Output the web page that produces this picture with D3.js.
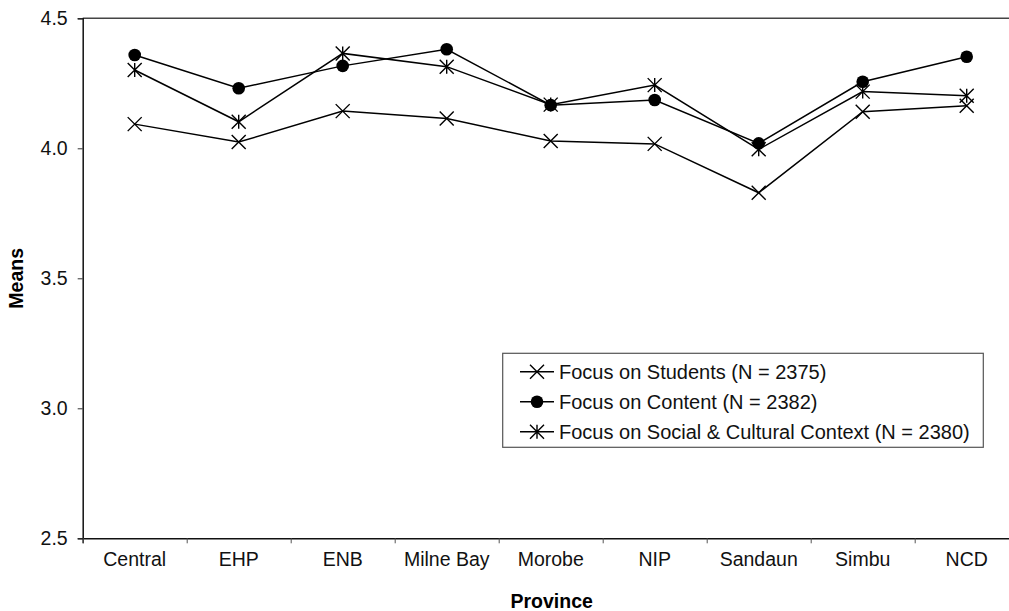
<!DOCTYPE html>
<html>
<head>
<meta charset="utf-8">
<script src="https://cdn.jsdelivr.net/npm/d3@7/dist/d3.min.js"></script>
<style>
  html, body { margin: 0; padding: 0; background: #fff; }
  svg { display: block; font-family: Arial, "Liberation Sans", sans-serif; }
</style>
</head>
<body>
<svg id="chart" width="1009" height="611"></svg>
<script>
// Provinces along the x axis
const provinces = ["Central", "EHP", "ENB", "Milne Bay", "Morobe", "NIP", "Sandaun", "Simbu", "NCD"];

// Mean scores per province for each focus scale
const focusStudents = [4.093, 4.024, 4.143, 4.115, 4.028, 4.017, 3.829, 4.141, 4.164];
const focusContent  = [4.359, 4.231, 4.317, 4.381, 4.166, 4.186, 4.019, 4.256, 4.352];
const focusSocial   = [4.301, 4.102, 4.365, 4.314, 4.168, 4.243, 3.996, 4.218, 4.202];

const seriesNames = [
  "Focus on Students (N = 2375)",
  "Focus on Content (N = 2382)",
  "Focus on Social & Cultural Context (N = 2380)"
];

const yTicks = [2.5, 3.0, 3.5, 4.0, 4.5];

const svg = d3.select("#chart");
const plotLeft = 82.7, plotTop = 18.3, plotBottom = 538.3, band = 104;
const plotRight = plotLeft + band * provinces.length;
const fontSize = 19.5;
const fontFamily = "Arial, 'Liberation Sans', sans-serif";

const x = d3.scaleBand().domain(provinces).range([plotLeft, plotRight]).paddingInner(0).paddingOuter(0);
const xEdge = d3.scaleLinear().domain([0, provinces.length]).range([plotLeft, plotRight]);
const y = d3.scaleLinear().domain([2.5, 4.5]).range([plotBottom, plotTop]);

// Top frame line
svg.append("line")
  .attr("x1", plotLeft).attr("x2", plotRight)
  .attr("y1", y(4.5)).attr("y2", y(4.5))
  .attr("stroke", "#444").attr("stroke-width", 1.5);

// Y axis
const yAxis = svg.append("g")
  .attr("transform", `translate(${plotLeft},0)`)
  .call(d3.axisLeft(y).tickValues(yTicks).tickFormat(d3.format(".1f")).tickSize(5).tickPadding(10));
yAxis.select(".domain").attr("stroke", "#111").attr("stroke-width", 1.5);
yAxis.selectAll(".tick line").attr("stroke", "#333").attr("stroke-width", 1);
yAxis.selectAll(".tick text")
  .attr("font-size", fontSize).attr("font-family", fontFamily)
  .attr("fill", "#111");

// X axis: ticks on category boundaries, labels at category centers
const xAxis = svg.append("g")
  .attr("transform", `translate(0,${plotBottom})`)
  .call(d3.axisBottom(xEdge).tickValues(d3.range(0, provinces.length + 1)).tickFormat("").tickSize(5));
xAxis.select(".domain").attr("stroke", "#111").attr("stroke-width", 1.5);
xAxis.selectAll(".tick line").attr("stroke", "#555").attr("stroke-width", 1);

const xLabels = svg.append("g")
  .attr("transform", `translate(0,${plotBottom})`)
  .call(d3.axisBottom(x).tickSize(0).tickPadding(14));
xLabels.select(".domain").remove();
xLabels.selectAll(".tick text")
  .attr("font-size", fontSize).attr("font-family", fontFamily)
  .attr("fill", "#111");

// Axis titles
svg.append("text")
  .attr("x", 551.7).attr("y", 608)
  .attr("text-anchor", "middle")
  .attr("font-size", fontSize).attr("font-weight", "bold")
  .text("Province");

svg.append("text")
  .attr("transform", `translate(23,${(plotTop + plotBottom) / 2}) rotate(-90)`)
  .attr("text-anchor", "middle")
  .attr("font-size", fontSize).attr("font-weight", "bold")
  .text("Means");

// Marker shapes
const S = 7;
function drawMarker(g, kind, cx, cy) {
  if (kind === "circle") {
    g.append("circle").attr("cx", cx).attr("cy", cy).attr("r", 6.3).attr("fill", "#000");
  } else {
    const p = d3.path();
    p.moveTo(cx - S, cy - S); p.lineTo(cx + S, cy + S);
    p.moveTo(cx - S, cy + S); p.lineTo(cx + S, cy - S);
    if (kind === "star") { p.moveTo(cx, cy - S); p.lineTo(cx, cy + S); }
    g.append("path").attr("d", p.toString()).attr("stroke", "#000").attr("stroke-width", 1.4).attr("fill", "none");
  }
}

const series = [
  { name: seriesNames[0], values: focusStudents, kind: "cross" },
  { name: seriesNames[1], values: focusContent, kind: "circle" },
  { name: seriesNames[2], values: focusSocial, kind: "star" }
];

const line = d3.line()
  .x((d, i) => x(provinces[i]) + x.bandwidth() / 2)
  .y(d => y(d));

series.forEach(s => {
  const g = svg.append("g");
  g.append("path")
    .attr("d", line(s.values))
    .attr("fill", "none").attr("stroke", "#000").attr("stroke-width", 1.5);
  s.values.forEach((v, i) => drawMarker(g, s.kind, x(provinces[i]) + x.bandwidth() / 2, y(v)));
});

// Legend
const legend = svg.append("g");
legend.append("rect")
  .attr("x", 502.7).attr("y", 353.3).attr("width", 480.6).attr("height", 94)
  .attr("fill", "#fff").attr("stroke", "#555").attr("stroke-width", 1.2);
series.forEach((s, i) => {
  const cy = 371.7 + i * 30;
  legend.append("line").attr("x1", 520).attr("x2", 554).attr("y1", cy).attr("y2", cy)
    .attr("stroke", "#000").attr("stroke-width", 1.5);
  drawMarker(legend, s.kind, 537, cy);
  legend.append("text").attr("x", 559).attr("y", cy + 7)
    .attr("font-size", 20).attr("fill", "#111").text(s.name);
});
</script>
</body>
</html>
